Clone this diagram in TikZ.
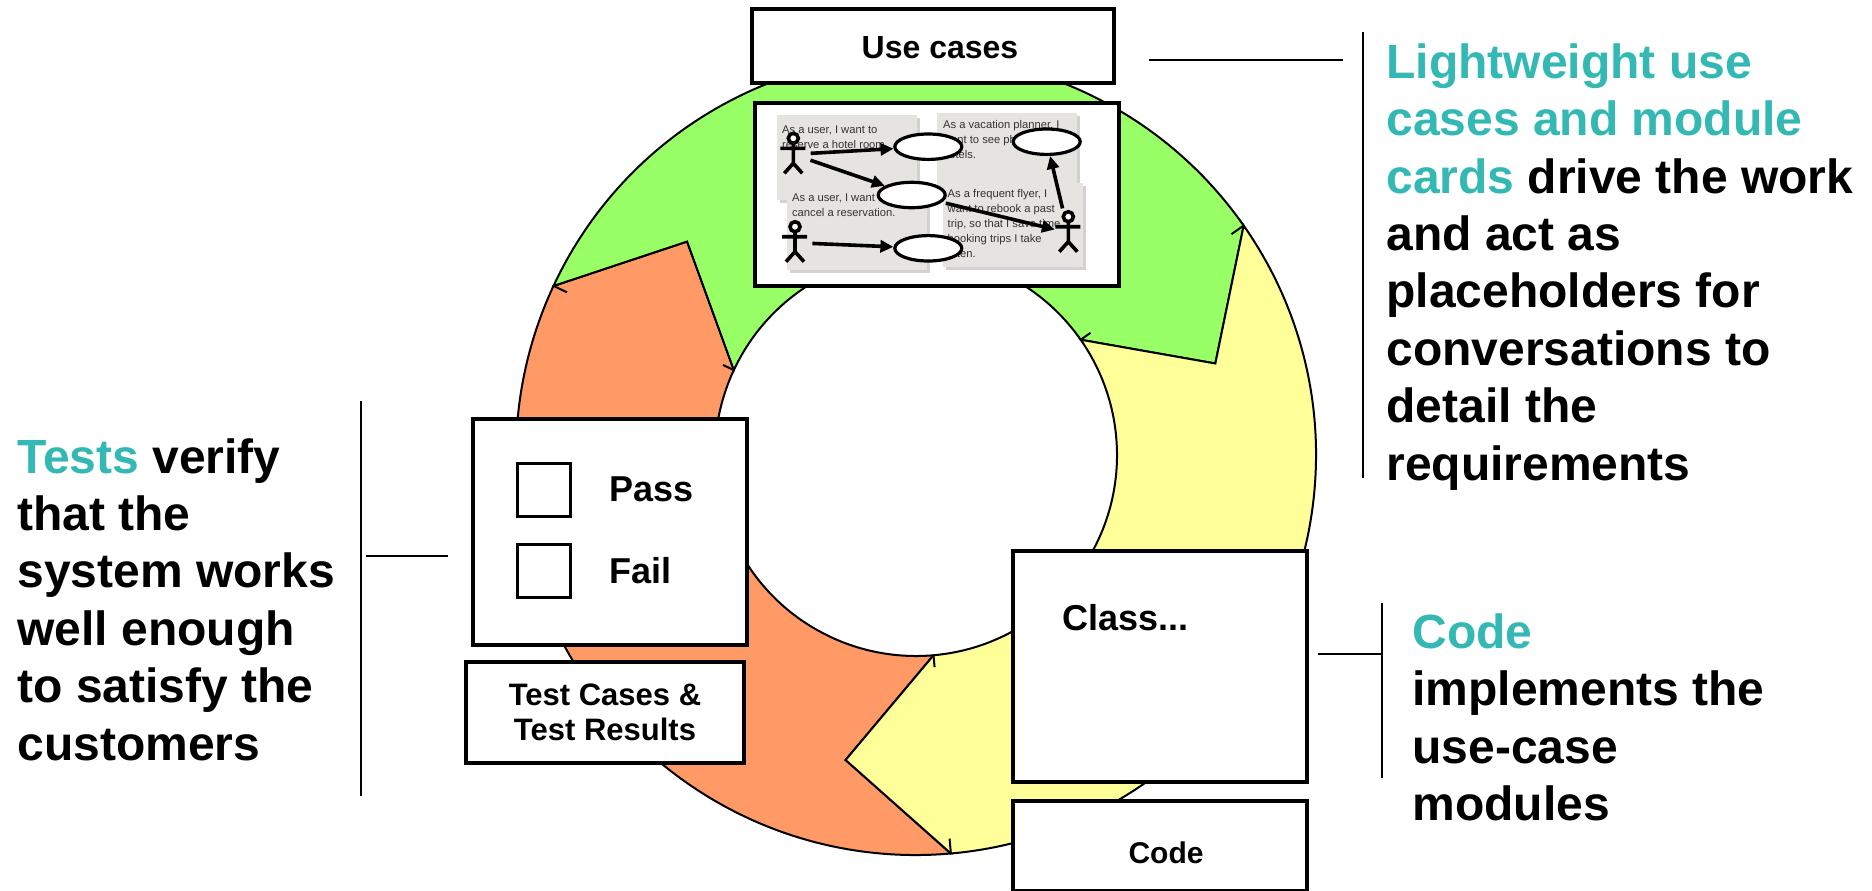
\documentclass[tikz,border=0pt]{standalone}
\usepackage{fontspec}
\setmainfont{Liberation Sans}
\usetikzlibrary{arrows.meta, shapes.geometric, shadows}

\definecolor{ringgreen}{HTML}{99FF66}
\definecolor{ringorange}{HTML}{FF9966}
\definecolor{ringyellow}{HTML}{FFFF99}
\definecolor{hlteal}{HTML}{33B8B3}
\definecolor{cardgray}{HTML}{E6E4E1}

\begin{document}
\begin{tikzpicture}[
        x=0.5pt, y=-0.5pt,
        seg/.style={draw=black, line width=1pt},
        box/.style={draw, fill=white, line width=2pt, inner sep=0pt},
        checkbox/.style={draw, line width=1.6pt, minimum size=26.5pt, inner sep=0pt},
        label/.style={anchor=base west, inner sep=0pt, font=\fontsize{18}{21}\selectfont\bfseries},
        callout/.style={line width=1.1pt},
        note/.style={anchor=base west, align=left, inner sep=0pt, font=\fontsize{24}{28.7}\selectfont\bfseries},
        card/.style={fill=cardgray, drop shadow={shadow xshift=1.5pt, shadow yshift=-1.5pt, opacity=0.35}},
        cardtext/.style={anchor=base west, align=left, inner sep=0pt, font=\fontsize{5.6}{7.5}\selectfont, text=black!80},
        ucase/.style={ellipse, draw, fill=white, line width=1.6pt, minimum width=33.5pt, minimum height=12.7pt, inner sep=0pt},
        flow/.style={-{Triangle[length=6.5pt, width=6pt]}, line width=1.8pt, shorten <=2pt},
        actor/.pic={
            \draw[line width=1.8pt, fill=white] (0,0) circle[radius=5];
            \draw[line width=1.8pt] (-13,10) -- (12,10) (0,5) -- (0,25) (-9,35) -- (0,25) -- (9,35);
            \node[inner sep=0pt, minimum width=13pt, minimum height=20pt] (-box) at (0,16) {};
        }
    ]
    \useasboundingbox (0,0) rectangle (1872,890);

    % --- the cycle: three curved arrows ---
    \begin{scope}[shift={(916,455)}, x=0.5pt, y=0.5pt]
        \def\Ro{400}
        \def\Ri{201}
        \def\Rt{313}
        % tests (orange)
        \filldraw[seg, fill=ringorange] (-85:\Ro) arc[start angle=-85, end angle=-205, radius=\Ro]
            -- (-223:\Rt) -- (-205:\Ri) arc[start angle=-205, end angle=-85, radius=\Ri]
            -- (-103:\Rt) -- cycle;
        % use cases (green)
        \filldraw[seg, fill=ringgreen] (155:\Ro) arc[start angle=155, end angle=35, radius=\Ro]
            -- (17:\Rt) -- (35:\Ri) arc[start angle=35, end angle=155, radius=\Ri]
            -- (137:\Rt) -- cycle;
        % code (yellow)
        \filldraw[seg, fill=ringyellow] (35:\Ro) arc[start angle=35, end angle=-85, radius=\Ro]
            -- (-103:\Rt) -- (-85:\Ri) arc[start angle=-85, end angle=35, radius=\Ri]
            -- (17:\Rt) -- cycle;
        % small marks where the arrow heads start
        \foreach \a in {155, 35, -85} {
            \draw[line width=1pt] (\a:\Ro) -- (\a:{\Ro-15});
            \draw[line width=1pt] (\a:\Ri) -- (\a:{\Ri+12});
        }
    \end{scope}

    % --- use cases ---
    \node[box, minimum width=181pt, minimum height=37pt] (usecases) at (933,46) {};
    \node[label, anchor=base, font=\fontsize{16}{19}\selectfont\bfseries] (uclabel) at (940,58) {Use cases};
    \node[box, minimum width=182pt, minimum height=91.5pt] (storybox) at (937,194.5) {};

    % story cards (text anchored on its last line)
    \fill[card] (776.7,115) rectangle (916.7,200);
    \node[cardtext] (storyA) at (781.7,148.3) {As a user, I want to\\reserve a hotel room.};
    \fill[card] (786.7,191.7) rectangle (926.7,270);
    \node[cardtext] (storyB) at (791.7,216.7) {As a user, I want to\\cancel a reservation.};
    \fill[card] (936.7,113) rectangle (1076.7,187);
    \node[cardtext] (storyC) at (942.7,158.3) {As a vacation planner, I\\want to see photos of\\hotels.};
    \fill[card] (943,183) rectangle (1083,267);
    \node[cardtext] (storyD) at (947.3,257.3) {As a frequent flyer, I\\want to rebook a past\\trip, so that I save time\\booking trips I take\\often.};

    % actors and use-case ellipses
    \pic (userA) at (793.3,138.3) {actor};
    \pic (userB) at (795,226.7) {actor};
    \pic (flyer) at (1068.3,216.7) {actor};
    \node[ucase] (reserve) at (928.3,146.7) {};
    \node[ucase] (photos) at (1046.7,141.7) {};
    \node[ucase] (cancel) at (911.7,195) {};
    \node[ucase] (rebook) at (928.3,248.3) {};
    \draw[flow] (userA-box) -- (reserve);
    \draw[flow] (userA-box) -- (cancel);
    \draw[flow] (userB-box) -- (rebook);
    \draw[flow] (cancel) -- (flyer-box);
    \draw[flow] (flyer-box) -- (photos);

    % --- tests ---
    \node[box, minimum width=137pt, minimum height=113pt] (verdict) at (610,532) {};
    \node[checkbox] (passbox) at (544,490) {};
    \node[label] (passlabel) at (609,501) {Pass};
    \node[checkbox] (failbox) at (544,571) {};
    \node[label] (faillabel) at (609,583) {Fail};
    \node[box, minimum width=139pt, minimum height=50.5pt, align=center,
        font=\fontsize{15.5}{17.5}\selectfont\bfseries] (testcases) at (605,712.5) {Test Cases \&\\Test Results};

    % --- code ---
    \node[box, minimum width=147pt, minimum height=115.5pt] (classbox) at (1160,666.5) {};
    \node[label] (classlabel) at (1062,630) {Class...};
    \node[box, minimum width=147pt, minimum height=45pt] (codebox) at (1160,846) {};
    \node[label, anchor=base, font=\fontsize{15}{18}\selectfont\bfseries] (codelabel) at (1166,863) {Code};

    % --- notes and their brackets (notes anchored on their last line) ---
    \coordinate (reqtop) at (1363,32);
    \coordinate (reqbot) at (1363,478);
    \coordinate (reqleft) at (1149,60);
    \coordinate (reqright) at (1343,60);
    \draw[callout] (reqtop) -- (reqbot);
    \draw[callout] (reqleft) -- (reqright);
    \node[note] (reqnote) at (1386,480) {\textcolor{hlteal}{Lightweight use}\\\textcolor{hlteal}{cases and module}\\\textcolor{hlteal}{cards} drive the work\\and act as\\placeholders for\\conversations to\\detail the\\requirements};

    \coordinate (testtop) at (361,401);
    \coordinate (testbot) at (361,796);
    \coordinate (testleft) at (366,556);
    \coordinate (testright) at (448,556);
    \draw[callout] (testtop) -- (testbot);
    \draw[callout] (testleft) -- (testright);
    \node[note] (testnote) at (17,760) {\textcolor{hlteal}{Tests} verify\\that the\\system works\\well enough\\to satisfy the\\customers};

    \coordinate (codetop) at (1382,603);
    \coordinate (codebot) at (1382,778);
    \coordinate (codeleft) at (1318,654);
    \draw[callout] (codetop) -- (codebot);
    \draw[callout] (codeleft) -- (codetop |- codeleft);
    \node[note] (codenote) at (1412,820.5) {\textcolor{hlteal}{Code}\\implements the\\use-case\\modules};
\end{tikzpicture}
\end{document}
